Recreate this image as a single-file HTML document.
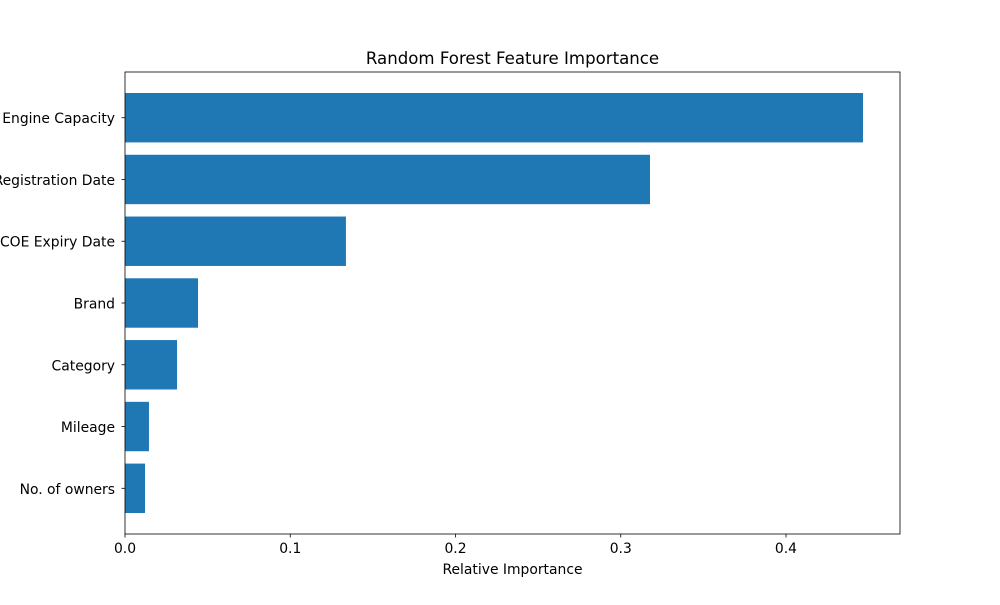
<!DOCTYPE html>
<html><head><meta charset="utf-8"><style>
body{margin:0;background:#fff;font-family:"Liberation Sans","DejaVu Sans",sans-serif;}
svg text{font-family:"DejaVu Sans","Liberation Sans",sans-serif;}
</style></head><body>
<svg id="chart" width="1000" height="600">
<rect width="1000" height="600" fill="#fff"/>
<text x="512.5" y="64" text-anchor="middle" font-size="16.6">Random Forest Feature Importance</text>
<g id="bars"></g><g id="xticks"></g><g id="yticks"></g>
<rect x="125" y="72" width="775" height="462" fill="none" stroke="#000" stroke-width="0.8"/>
<text x="512.5" y="574" text-anchor="middle" font-size="13.9">Relative Importance</text>
</svg>
<script>
const categories=["No. of owners","Mileage","Category","Brand","COE Expiry Date","Registration Date","Engine Capacity"];
const values=[0.0121,0.0145,0.0315,0.0442,0.1337,0.3177,0.4466];
const xTicks=[0,0.1,0.2,0.3,0.4];
const xTickLabels=["0.0","0.1","0.2","0.3","0.4"];
const L=125,R=900,T=72,B=534,xMax=0.469,yMin=-0.74,yMax=6.74;
const NS="http://www.w3.org/2000/svg";
const xs=v=>L+v/xMax*(R-L);
const ys=i=>B-(i-yMin)/(yMax-yMin)*(B-T);
function mk(t,a,p){const e=document.createElementNS(NS,t);for(const k in a)e.setAttribute(k,a[k]);p.appendChild(e);return e;}
const gb=document.getElementById('bars'),gx=document.getElementById('xticks'),gy=document.getElementById('yticks');
values.forEach((v,i)=>{
 const y0=ys(i+0.4),y1=ys(i-0.4);
 const r=mk('rect',{x:xs(0),y:y0,width:xs(v)-xs(0),height:y1-y0,fill:'#1f77b4'},gb);
 
 
 const tk=mk('line',{x1:L-3.5,x2:L,y1:ys(i),y2:ys(i),stroke:'#000','stroke-width':0.8},gy);
 
 
 const t=mk('text',{x:L-10,y:ys(i)+5.5,'text-anchor':'end','font-size':13.9},gy);
 t.textContent=categories[i];
 
 
});
xTicks.forEach((v,i)=>{
 const tk=mk('line',{x1:xs(v),x2:xs(v),y1:B,y2:B+3.5,stroke:'#000','stroke-width':0.8},gx);
 
 
 const t=mk('text',{x:xs(v),y:B+19,'text-anchor':'middle','font-size':13.9},gx);
 t.textContent=xTickLabels[i];
 
 
});
</script>
</body></html>
